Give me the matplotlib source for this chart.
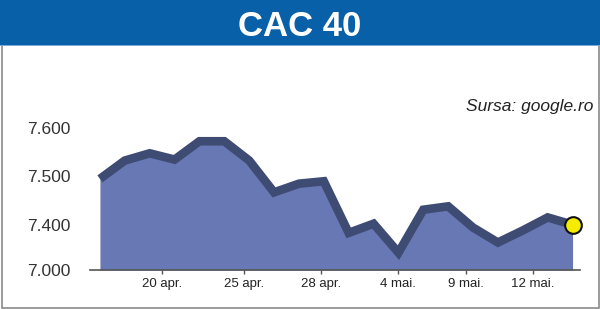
import matplotlib
matplotlib.use("Agg")
import matplotlib.pyplot as plt
from matplotlib.patches import Rectangle

plt.rcParams['font.family'] = ['Liberation Sans', 'DejaVu Sans']

# Data (CAC 40 closing values)
values = [7495, 7533, 7548, 7535, 7573, 7573, 7533, 7467, 7485, 7490,
          7383, 7402, 7342, 7431, 7438, 7394, 7363, 7388, 7415, 7400]
x_tick_pos = [2.5, 5.8, 8.9, 12.0, 14.7, 17.4]
x_tick_labels = ['20 apr.', '25 apr.', '28 apr.', '4 mai.', '9 mai.', '12 mai.']
y_tick_pos = [7600, 7500, 7400, 7306]
y_tick_labels = ['7.600', '7.500', '7.400', '7.000']
title = 'CAC 40'
source = 'Sursa: google.ro'

W, H = 600, 309
fig = plt.figure(figsize=(W / 100, H / 100), dpi=100)
fig.patch.set_facecolor('white')

# frame panel
fig.add_artist(Rectangle((1.5 / W, 1.5 / H), (W - 3) / W, (H - 46) / H,
                         transform=fig.transFigure, facecolor='none',
                         edgecolor='#8a8a8a', linewidth=1.2, zorder=5))
# title bar
fig.add_artist(Rectangle((0, (H - 45) / H), 1, 45 / H, transform=fig.transFigure,
                         facecolor='#0860a8', edgecolor='none', zorder=6))
fig.add_artist(Rectangle((0, (H - 46) / H), 1, 1.2 / H, transform=fig.transFigure,
                         facecolor='#7fa8d8', edgecolor='none', zorder=6))
fig.text(0.5, (H - 22.5) / H, title, ha='center', va='center_baseline', color='white',
         fontsize=25, fontweight='bold', zorder=7)

ax = fig.add_axes([90 / W, (H - 270) / H, 490 / W, 190 / H])
x = list(range(len(values)))
ymin = 7306
ax.fill_between(x, values, ymin, color='#6878b4', linewidth=0, zorder=1)
ax.plot(x, values, color='#3e4b72', linewidth=6.2, solid_joinstyle='miter',
        solid_capstyle='butt', zorder=2)
ax.plot([x[-1]], [values[-1]], 'o', markersize=12, markerfacecolor='#f5ec00',
        markeredgecolor='#111111', markeredgewidth=1.5, zorder=3, clip_on=False)

ax.set_xlim(-0.4, 19.3)
ax.set_ylim(ymin, 7700)
for s in ['top', 'right', 'left']:
    ax.spines[s].set_visible(False)
ax.spines['bottom'].set_color('#555555')
ax.spines['bottom'].set_linewidth(1.2)
ax.set_facecolor('none')

ax.set_xticks(x_tick_pos)
ax.set_xticklabels(x_tick_labels, fontsize=9.5, color='#222222')
ax.tick_params(axis='x', length=3, width=1, color='#555555', pad=3)
ax.set_yticks(y_tick_pos)
ax.set_yticklabels(y_tick_labels, fontsize=12.5, color='#333333')
ax.tick_params(axis='y', length=0, pad=14)

fig.text(593 / W, (H - 107) / H, source, ha='right', va='center',
         fontsize=12.5, style='italic', color='#222222')

fig.savefig('out.png', dpi=100)
